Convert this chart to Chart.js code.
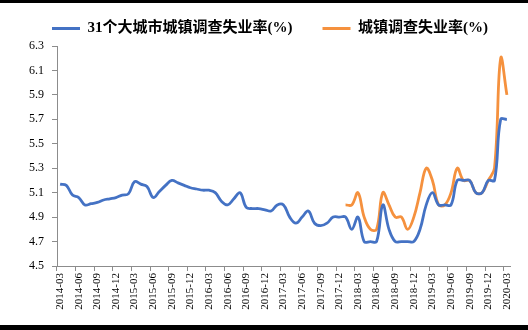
<!DOCTYPE html>
<html>
<head>
<meta charset="utf-8">
<script src="https://cdn.jsdelivr.net/npm/chart.js@4.4.1/dist/chart.umd.min.js"></script>
<style>
	html, body { margin: 0; padding: 0; background: #000; }
	#wrap { position: absolute; left: 0; top: 3px; width: 528px; height: 322px; background: #fff; }
</style>
</head>
<body>
<div id="wrap"><canvas id="unempChart" width="528" height="322"></canvas></div>
<script>
// months 2014-03 .. 2020-03
const months = [];
for (let y = 2014; y <= 2020; y++) {
	for (let m = 1; m <= 12; m++) {
		if ((y === 2014 && m < 3) || (y === 2020 && m > 3)) continue;
		months.push(y + '-' + String(m).padStart(2, '0'));
	}
}

const seriesNames = ['31个大城市城镇调查失业率(%)', '城镇调查失业率(%)'];

// 31 big cities, 2014-03 .. 2020-03
const cities31 = [
	5.17, 5.16, 5.08, 5.06, 5.00, 5.01, 5.02, 5.04, 5.05, 5.06,
	5.08, 5.09, 5.19, 5.17, 5.15, 5.06, 5.11, 5.16, 5.20, 5.18,
	5.16, 5.14, 5.13, 5.12, 5.12, 5.10, 5.03, 5.00, 5.05, 5.10,
	4.98, 4.97, 4.97, 4.96, 4.95, 5.00, 5.00, 4.90, 4.85, 4.90,
	4.95, 4.85, 4.83, 4.85, 4.90, 4.90, 4.90, 4.80, 4.90, 4.70,
	4.70, 4.70, 5.00, 4.80, 4.70, 4.70, 4.70, 4.70, 4.80, 5.00,
	5.10, 5.00, 5.00, 5.00, 5.20, 5.20, 5.20, 5.10, 5.10, 5.20,
	5.20, 5.70, 5.70
];

// national urban surveyed rate, starts 2018-01
const national = [
	5.0, 5.0, 5.1, 4.9, 4.8, 4.8, 5.1, 5.0, 4.9, 4.9,
	4.8, 4.9, 5.1, 5.3, 5.2, 5.0, 5.0, 5.1, 5.3, 5.2,
	5.2, 5.1, 5.1, 5.2, 5.3, 6.2, 5.9
];
const nationalStart = '2018-01';

const yTicks = [4.5, 4.7, 4.9, 5.1, 5.3, 5.5, 5.7, 5.9, 6.1, 6.3];

const nationalFull = months.map((m, i) => {
	const k = i - months.indexOf(nationalStart);
	return k >= 0 && k < national.length ? national[k] : null;
});

const serif = '"Liberation Serif", "Noto Sans CJK SC", serif';
const axisGray = '#8c8c8c';

// nudge the legend a bit to the right, like the original
const legendShift = {
	id: 'legendShift',
	afterLayout(chart) {
		chart.legend.left += 15;
		chart.legend.right += 15;
	},
};

const ctx = document.getElementById('unempChart').getContext('2d');

new Chart(ctx, {
	type: 'line',
	data: {
		labels: months,
		datasets: [
			{
				label: seriesNames[0],
				data: cities31,
				borderColor: '#4472C4',
				backgroundColor: '#4472C4',
				borderWidth: 2.8,
				pointRadius: 0,
				tension: 0.4,
				fill: false,
			},
			{
				label: seriesNames[1],
				data: nationalFull,
				borderColor: '#F5913E',
				backgroundColor: '#F5913E',
				borderWidth: 2.8,
				pointRadius: 0,
				tension: 0.4,
				fill: false,
			},
		],
	},
	plugins: [legendShift],
	options: {
		responsive: false,
		animation: false,
		layout: { padding: { left: 0, right: 18, top: -12, bottom: 0 } },
		plugins: {
			tooltip: { enabled: false },
			legend: {
				display: true,
				position: 'top',
				labels: {
					color: '#000',
					font: { family: serif, size: 15, weight: 'bold' },
					boxWidth: 28,
					boxHeight: 3,
					padding: 30,
					generateLabels: (chart) => {
						const items = Chart.defaults.plugins.legend.labels.generateLabels(chart);
						items.forEach((it) => { it.lineWidth = 0; });
						return items;
					},
				},
			},
		},
		scales: {
			x: {
				offset: true,
				grid: {
					offset: true,
					drawOnChartArea: false,
					tickLength: 5,
					color: (c) => (c.index % 3 === 0 ? axisGray : 'rgba(0,0,0,0)'),
				},
				border: { display: true, color: axisGray },
				ticks: {
					autoSkip: false,
					minRotation: 90,
					maxRotation: 90,
					padding: 2,
					color: '#000',
					font: { family: serif, size: 11 },
					callback: function (val, i) {
						return i % 3 === 0 ? this.getLabelForValue(val) : '';
					},
				},
				afterFit: (scale) => { scale.height = 59; },
			},
			y: {
				min: 4.5,
				max: 6.3,
				afterBuildTicks: (scale) => {
					scale.ticks = yTicks.map((v) => ({ value: v }));
				},
				grid: { drawOnChartArea: false, tickLength: 5, color: axisGray },
				border: { display: true, color: axisGray },
				ticks: {
					padding: 8,
					color: '#000',
					font: { family: serif, size: 12 },
					callback: (v) => Number(v).toFixed(1),
				},
				afterFit: (scale) => { scale.width = 57; },
			},
		},
	},
});
</script>
</body>
</html>
